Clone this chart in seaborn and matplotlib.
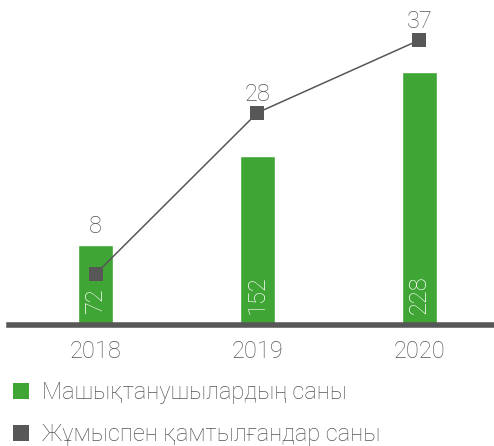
import pandas as pd
import matplotlib.pyplot as plt
import matplotlib.transforms as mtransforms
from matplotlib.lines import Line2D
import seaborn as sns

years = ["2018", "2019", "2020"]
trainees = [72, 152, 228]
employed = [8, 28, 37]
labels = ["Машықтанушылардың саны", "Жұмыспен қамтылғандар саны"]

GREEN = "#3fa535"
GREY = "#575757"
TEXT = "#555555"

sns.set_theme(style="white")
plt.rcParams["font.family"] = ["Roboto", "DejaVu Sans"]
plt.rcParams["font.weight"] = "light"

df = pd.DataFrame({"year": years, "trainees": trainees, "employed": employed})

fig = plt.figure(figsize=(4.94, 4.46), dpi=100)
ax = fig.add_axes([9 / 494, (446 - 325) / 446, 485 / 494, 325 / 446])

# === bars ===
sns.barplot(data=df, x="year", y="trainees", color=GREEN, width=0.216,
            saturation=1, ax=ax, zorder=2)
ax.set_xlim(-0.534, 2.46)
ax.set_ylim(0, 292.8)

# value labels inside bars, rotated
off = mtransforms.offset_copy(ax.get_xaxis_transform(), fig=fig, x=0, y=11, units="dots")
for i, v in enumerate(trainees):
    ax.text(i, 0, str(v), transform=off, rotation=90, ha="center", va="bottom",
            color="white", fontsize=17)

# === line on secondary axis ===
ax2 = ax.twinx()
sns.lineplot(data=df, x="year", y="employed", color=GREY, linewidth=1.1,
             marker="s", markersize=9.5, markeredgewidth=0, ax=ax2, zorder=3)
ax2.set_ylim(1.69, 41.96)
ax2.set_xlim(-0.534, 2.46)
for i, v in enumerate(employed):
    ax2.annotate(str(v), (i, v), xytext=(0, 13 if i else 34), textcoords="offset points",
                 ha="center", va="center", color=TEXT, fontsize=17)

for a in (ax, ax2):
    a.set_xlabel("")
    a.set_ylabel("")
    a.set_yticks([])
    for s in ("top", "right", "left"):
        a.spines[s].set_visible(False)
ax2.spines["bottom"].set_visible(False)
ax.spines["bottom"].set_color(GREY)
ax.spines["bottom"].set_linewidth(4)
ax.spines["bottom"].set_zorder(5)
ax.tick_params(axis="x", length=0, pad=11, labelsize=17, labelcolor=TEXT)
ax2.tick_params(axis="x", length=0, labelbottom=False)

# === legend ===
handles = [
    Line2D([], [], linestyle="none", marker="s", markersize=11.5, color=GREEN, markeredgewidth=0),
    Line2D([], [], linestyle="none", marker="s", markersize=11.5, color=GREY, markeredgewidth=0),
]
fig.legend(handles, labels, loc="upper left", bbox_to_anchor=(0.0, 0.166),
           frameon=False, fontsize=17, labelcolor=TEXT, handletextpad=0.4,
           labelspacing=0.8, handlelength=1.0, borderaxespad=0)

plt.savefig("out.png", dpi=100)
plt.close()
